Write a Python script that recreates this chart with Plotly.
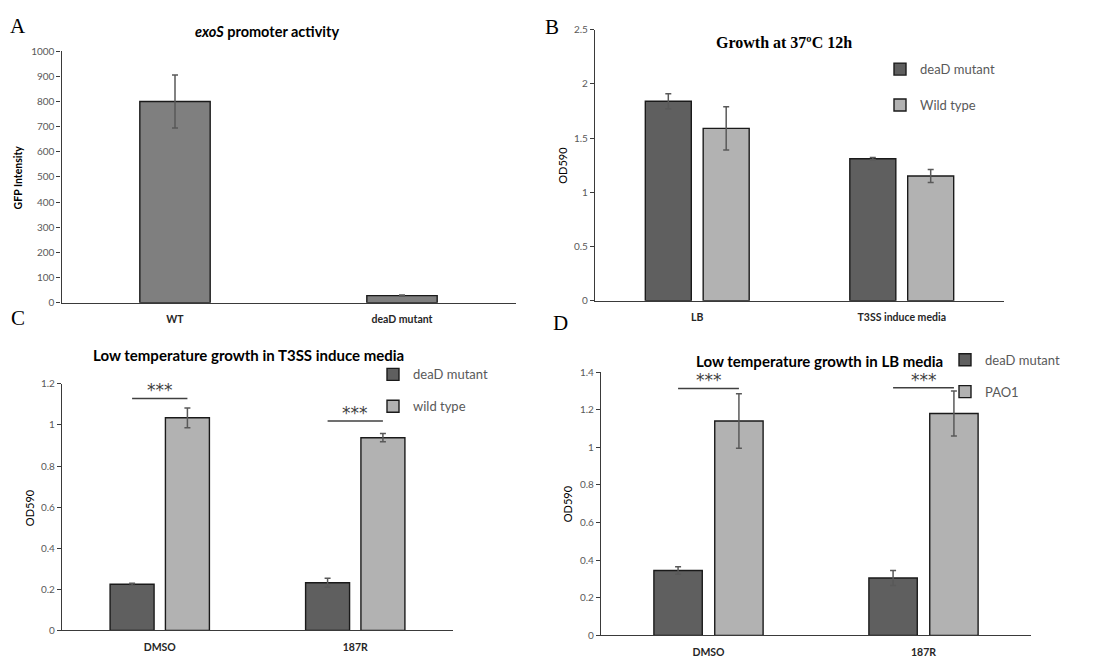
import plotly.graph_objects as go

# page body has an 8px margin; the figure fills the rest of the 1103x666 window
OFFSET = 8
W, H = 1103 - 2 * OFFSET, 666 - 2 * OFFSET

# ---------------- data ----------------
a_categories = ["WT", "deaD mutant"]
a_values = [800, 28]
a_errors = [105, 2]

b_categories = ["LB", "T3SS induce media"]
b_mutant = [1.84, 1.31]
b_mutant_err = [0.07, 0.01]
b_wild = [1.59, 1.15]
b_wild_err = [0.20, 0.06]

c_categories = ["DMSO", "187R"]
c_mutant = [0.225, 0.232]
c_mutant_err = [0.005, 0.022]
c_wild = [1.035, 0.938]
c_wild_err = [0.048, 0.020]
c_sig_height = [1.129, 1.019]

d_categories = ["DMSO", "187R"]
d_mutant = [0.345, 0.305]
d_mutant_err = [0.02, 0.04]
d_pao1 = [1.14, 1.18]
d_pao1_err = [0.145, 0.12]
d_sig_height = [1.313, 1.317]

sig_label = "***"

# ---------------- style ----------------
DARK = "#5f5f5f"
LIGHT = "#b2b2b2"
MID = "#7f7f7f"
ERR = "#595959"
TICK = "#595959"
SANS = "Lato, Carlito, 'Liberation Sans', sans-serif"
SERIF = "'Liberation Serif', 'DejaVu Serif', serif"

BW = 0.225          # bar width in category units
OFF_DARK = -0.254
OFF_LIGHT = 0.029


def px_x(p):
    return (p - OFFSET) / W


def px_y(p):
    return 1 - (p - OFFSET) / H


fig = go.Figure()


def err(vals, w=3):
    return dict(type="data", array=vals, visible=True, color=ERR, thickness=1.5, width=w)


def bar(x, y, e, color, name, xa, ya, offset=None, width=BW, legend=None, show=False, group=None):
    return go.Bar(
        x=x, y=y, error_y=err(e), name=name,
        marker=dict(color=color, line=dict(color="#1a1a1a", width=1.4)),
        xaxis=xa, yaxis=ya, offset=offset, width=width,
        showlegend=show, legend=legend, legendgroup=group,
    )


# Panel A
fig.add_trace(bar(a_categories, a_values, a_errors, MID, "GFP", "x", "y",
                  offset=None, width=0.31))
# Panel B
fig.add_trace(bar(b_categories, b_mutant, b_mutant_err, DARK, "deaD mutant", "x2", "y2",
                  OFF_DARK, BW, "legend2", True, "b1"))
fig.add_trace(bar(b_categories, b_wild, b_wild_err, LIGHT, "Wild type", "x2", "y2",
                  OFF_LIGHT, BW, "legend2", True, "b2"))
# Panel C
fig.add_trace(bar(c_categories, c_mutant, c_mutant_err, DARK, "deaD mutant", "x3", "y3",
                  OFF_DARK, BW, "legend3", True, "c1"))
fig.add_trace(bar(c_categories, c_wild, c_wild_err, LIGHT, "wild type", "x3", "y3",
                  OFF_LIGHT, BW, "legend3", True, "c2"))
# Panel D
fig.add_trace(bar(d_categories, d_mutant, d_mutant_err, DARK, "deaD mutant", "x4", "y4",
                  OFF_DARK, BW, "legend4", True, "d1"))
fig.add_trace(bar(d_categories, d_pao1, d_pao1_err, LIGHT, "PAO1", "x4", "y4",
                  OFF_LIGHT, BW, "legend4", True, "d2"))


def xaxis(dom, anchor):
    return dict(domain=dom, anchor=anchor, type="category", range=[-0.5, 1.5],
                showline=True, linecolor="#3a3a3a", linewidth=1.2, showgrid=False,
                zeroline=False, ticks="outside", ticklen=7, tickcolor="rgba(0,0,0,0)",
                tickfont=dict(family=SANS, size=10.5, color="#262626", weight="bold"),
                fixedrange=True)


def yaxis(dom, anchor, rng, dtick):
    return dict(domain=dom, anchor=anchor, range=rng, dtick=dtick,
                showline=True, linecolor="#3a3a3a", linewidth=1.2, showgrid=False,
                zeroline=False, ticks="outside", ticklen=4, tickcolor="#3a3a3a",
                tickfont=dict(family=SANS, size=10, color=TICK), fixedrange=True)


layout = dict(
    width=W, height=H, margin=dict(l=0, r=0, t=0, b=0),
    paper_bgcolor="white", plot_bgcolor="white",
    barmode="overlay", showlegend=True,
    xaxis=xaxis([px_x(61.5), px_x(515.5)], "y"),
    yaxis=yaxis([px_y(302), px_y(45)], "x", [0, 1000], 100),
    xaxis2=xaxis([px_x(595), px_x(1004)], "y2"),
    yaxis2=yaxis([px_y(300), px_y(23)], "x2", [0, 2.5], 0.5),
    xaxis3=xaxis([px_x(62), px_x(453)], "y3"),
    yaxis3=yaxis([px_y(637), px_y(385)], "x3", [0, 1.2], 0.2),
    xaxis4=xaxis([px_x(601), px_x(1031)], "y4"),
    yaxis4=yaxis([px_y(642), px_y(373)], "x4", [0, 1.4], 0.2),
)


def legend(xp, yp, gap):
    return dict(x=px_x(xp), y=px_y(yp), xanchor="left", yanchor="top",
                bgcolor="rgba(0,0,0,0)", itemwidth=30, traceorder="grouped",
                tracegroupgap=gap, font=dict(family=SANS, size=13, color=TICK))


layout["legend2"] = legend(880, 48, 16)
layout["legend3"] = legend(373, 360, 12)
layout["legend4"] = legend(945, 345, 12)
layout["legend"] = dict(visible=False)

fig.update_layout(**layout)

annotations = []
# panel letters
for lab, xp, yp in [("A", 18, 19), ("B", 552, 20), ("C", 18, 318), ("D", 560, 323)]:
    annotations.append(dict(text=lab, x=px_x(xp), y=px_y(yp), xref="paper", yref="paper",
                            showarrow=False, xanchor="center", yanchor="middle",
                            font=dict(family=SERIF, size=21, color="black")))
# titles
titles = [
    ("<i>exoS</i> promoter activity", 267, 25, SANS, 14.5),
    ("Growth at 37ºC 12h", 784, 36, SERIF, 16),
    ("Low temperature growth in T3SS induce media", 248, 355, SANS, 15),
    ("Low temperature growth in LB media", 819, 362, SANS, 15),
]
for txt, xp, yp, fam, sz in titles:
    annotations.append(dict(text=txt, x=px_x(xp), y=px_y(yp), xref="paper", yref="paper",
                            showarrow=False, xanchor="center", yanchor="middle",
                            font=dict(family=fam, size=sz, color="black", weight="bold")))
# y axis titles
for txt, xp, yp, bold, sz in [("GFP Intensity", 18, 174, True, 10.5),
                              ("OD590", 563, 162, False, 11),
                              ("OD590", 29, 512, False, 11),
                              ("OD590", 567, 508, False, 11)]:
    annotations.append(dict(text=txt, x=px_x(xp), y=px_y(yp), xref="paper", yref="paper",
                            showarrow=False, textangle=-90, xanchor="center",
                            yanchor="middle",
                            font=dict(family=SANS, size=sz, color="black",
                                      weight="bold" if bold else "normal")))

shapes = []
# significance marks
for xa, ya, heights in [("x3", "y3", c_sig_height), ("x4", "y4", d_sig_height)]:
    for i, h in enumerate(heights):
        x0 = i + OFF_DARK + BW / 2
        x1 = i + OFF_LIGHT + BW / 2
        shapes.append(dict(type="line", xref=xa, yref=ya, x0=x0, x1=x1, y0=h, y1=h,
                           line=dict(color="#404040", width=1.5)))
        annotations.append(dict(text=sig_label, xref=xa, yref=ya, x=(x0 + x1) / 2, y=h,
                                showarrow=False, yanchor="bottom", yshift=-4,
                                font=dict(family="'DejaVu Sans', sans-serif", size=17,
                                          color="#404040")))

fig.update_layout(annotations=annotations, shapes=shapes)
fig.write_html("out.html")
